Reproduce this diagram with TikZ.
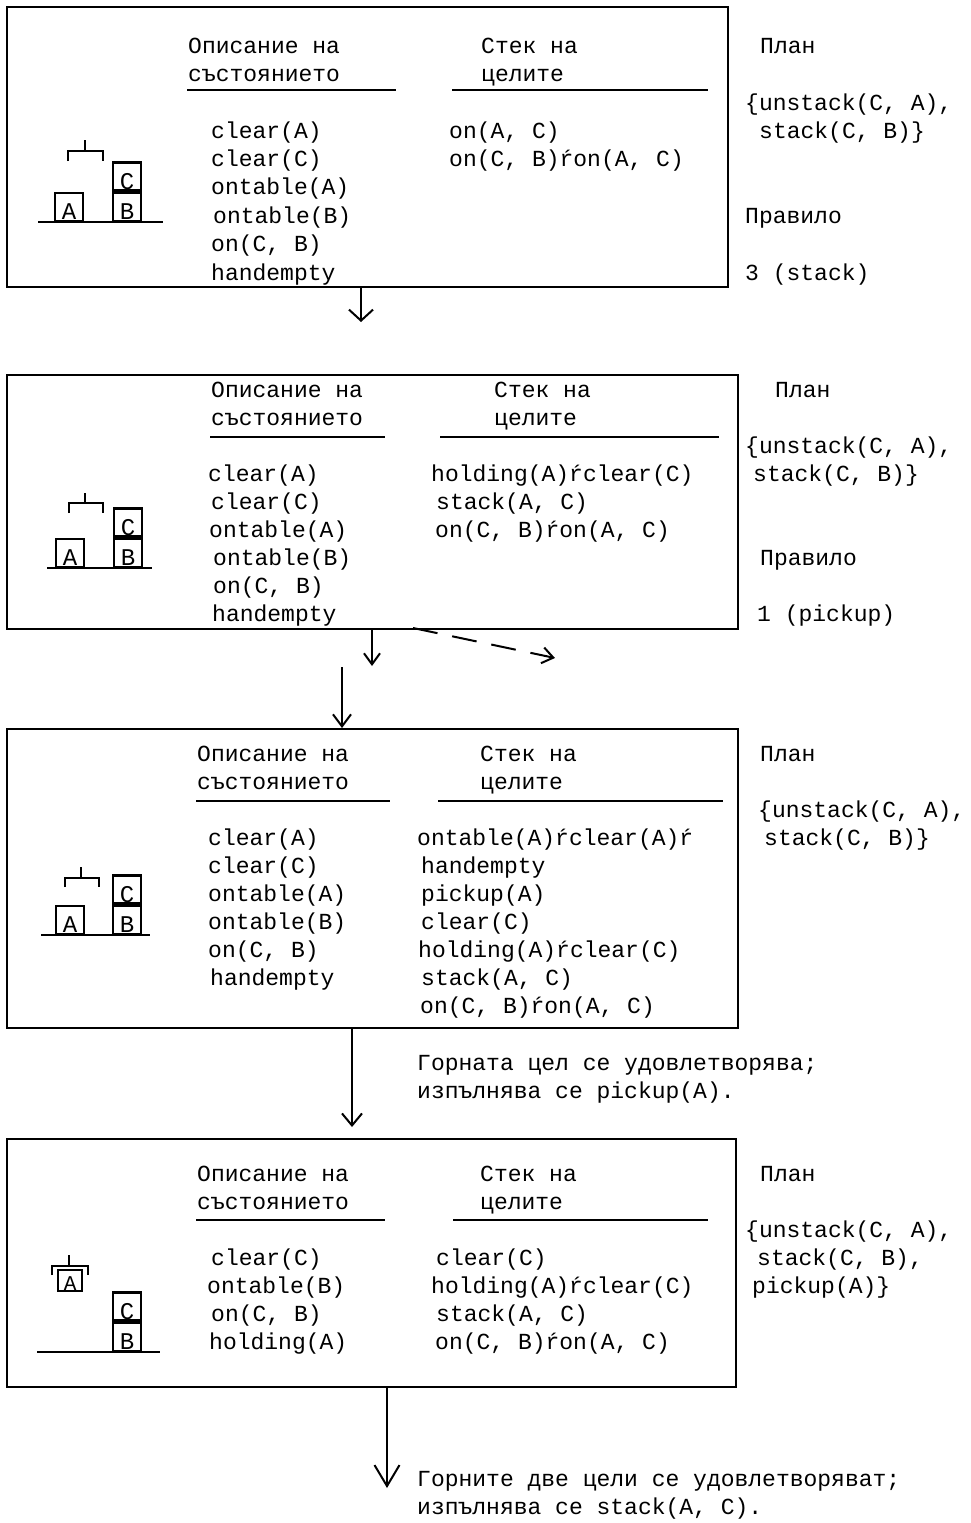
\documentclass[tikz,border=0pt]{standalone}
\usepackage{fontspec}
\newfontfamily\mono{Liberation Mono}
\usetikzlibrary{arrows.meta,calc}
\tikzset{
  txt/.style={anchor=west, inner sep=0pt, font=\mono\fontsize{23}{28}\selectfont,
    text height=20pt, text depth=4pt},
  frame/.style={draw, line width=2pt, anchor=north west, inner sep=0pt},
  rule/.style={line width=2pt},
  blk/.style={draw, line width=2.3pt, anchor=south west, minimum width=28pt,
    minimum height=28pt, inner sep=0pt, font=\mono\fontsize{24}{24}\selectfont,
    text height=25pt, text depth=0pt},
  hand/.style={line width=2.5pt},
  arr/.style={line width=2pt},
}
\begin{document}
\begin{tikzpicture}[x=1pt,y=-1pt]
\useasboundingbox (0,0) rectangle (971,1523);

% ---------------- state 1 ----------------
\node[frame, minimum width=721pt, minimum height=280pt] (B1) at (6,6) {};
\node[txt] (t1a) at (188,45) {Описание на};
\node[txt] (t1b) at (188,73) {състоянието};
\draw[rule] (187,90) -- (396,90);
\node[txt] (g1a) at (481,45) {Стек на};
\node[txt] (g1b) at (481,73) {целите};
\draw[rule] (452,90) -- (708,90);
\node[txt] (s1a) at (211,130) {clear(A)};
\node[txt] (s1b) at (211,158) {clear(C)};
\node[txt] (s1c) at (211,186) {ontable(A)};
\node[txt] (s1d) at (213,215) {ontable(B)};
\node[txt] (s1e) at (211,243) {on(C, B)};
\node[txt] (s1f) at (211,272) {handempty};
\node[txt] (k1a) at (449,130) {on(A, C)};
\node[txt] (k1b) at (449,158) {on(C, B)ŕon(A, C)};
\node[txt] (p1a) at (760,45) {План};
\node[txt] (p1b) at (745,102) {\{unstack(C, A),};
\node[txt] (p1c) at (759,130) {stack(C, B)\}};
\node[txt] (r1a) at (745,215) {Правило};
\node[txt] (r1b) at (745,272) {3 (stack)};
% blocks
\draw[rule] (38,222) -- (163,222);
\node[blk] (w1A) at (54,222) {A};
\node[blk] (w1B) at (112,222) {B};
\node[blk] (w1C) at (w1B.north west) {C};
\draw[hand] (68,161) -- (68,151) -- (103,151) -- (103,161);
\draw[hand] (85,151) -- (85,140);

% ---------------- state 2 ----------------
\node[frame, minimum width=731pt, minimum height=254pt] (B2) at (6,374) {};
\node[txt] (t2a) at (211,389) {Описание на};
\node[txt] (t2b) at (211,417) {състоянието};
\draw[rule] (210,437) -- (385,437);
\node[txt] (g2a) at (494,389) {Стек на};
\node[txt] (g2b) at (494,417) {целите};
\draw[rule] (440,437) -- (719,437);
\node[txt] (s2a) at (208,473) {clear(A)};
\node[txt] (s2b) at (211,501) {clear(C)};
\node[txt] (s2c) at (209,529) {ontable(A)};
\node[txt] (s2d) at (213,557) {ontable(B)};
\node[txt] (s2e) at (213,585) {on(C, B)};
\node[txt] (s2f) at (212,613) {handempty};
\node[txt] (k2a) at (431,473) {holding(A)ŕclear(C)};
\node[txt] (k2b) at (436,501) {stack(A, C)};
\node[txt] (k2c) at (435,529) {on(C, B)ŕon(A, C)};
\node[txt] (p2a) at (775,389) {План};
\node[txt] (p2b) at (745,445) {\{unstack(C, A),};
\node[txt] (p2c) at (753,473) {stack(C, B)\}};
\node[txt] (r2a) at (760,557) {Правило};
\node[txt] (r2b) at (757,613) {1 (pickup)};
% blocks
\draw[rule] (47,568) -- (152,568);
\node[blk] (w2A) at (55,568) {A};
\node[blk] (w2B) at (113,568) {B};
\node[blk] (w2C) at (w2B.north west) {C};
\draw[hand] (69,513) -- (69,503) -- (103,503) -- (103,513);
\draw[hand] (85,503) -- (85,493);

% ---------------- state 3 ----------------
\node[frame, minimum width=731pt, minimum height=299pt] (B3) at (6,728) {};
\node[txt] (t3a) at (197,753) {Описание на};
\node[txt] (t3b) at (197,781) {състоянието};
\draw[rule] (196,801) -- (390,801);
\node[txt] (g3a) at (480,753) {Стек на};
\node[txt] (g3b) at (480,781) {целите};
\draw[rule] (438,801) -- (723,801);
\node[txt] (s3a) at (208,837) {clear(A)};
\node[txt] (s3b) at (208,865) {clear(C)};
\node[txt] (s3c) at (208,893) {ontable(A)};
\node[txt] (s3d) at (208,921) {ontable(B)};
\node[txt] (s3e) at (208,949) {on(C, B)};
\node[txt] (s3f) at (210,977) {handempty};
\node[txt] (k3a) at (417,837) {ontable(A)ŕclear(A)ŕ};
\node[txt] (k3b) at (421,865) {handempty};
\node[txt] (k3c) at (421,893) {pickup(A)};
\node[txt] (k3d) at (421,921) {clear(C)};
\node[txt] (k3e) at (418,949) {holding(A)ŕclear(C)};
\node[txt] (k3f) at (421,977) {stack(A, C)};
\node[txt] (k3g) at (420,1005) {on(C, B)ŕon(A, C)};
\node[txt] (p3a) at (760,753) {План};
\node[txt] (p3b) at (758,809) {\{unstack(C, A),};
\node[txt] (p3c) at (764,837) {stack(C, B)\}};
% blocks
\draw[rule] (41,935) -- (150,935);
\node[blk] (w3A) at (55,935) {A};
\node[blk] (w3B) at (112,935) {B};
\node[blk] (w3C) at (w3B.north west) {C};
\draw[hand] (65,887) -- (65,878) -- (99,878) -- (99,887);
\draw[hand] (81,878) -- (81,867);

% ---------------- state 4 ----------------
\node[frame, minimum width=729pt, minimum height=248pt] (B4) at (6,1138) {};
\node[txt] (t4a) at (197,1173) {Описание на};
\node[txt] (t4b) at (197,1201) {състоянието};
\draw[rule] (196,1220) -- (385,1220);
\node[txt] (g4a) at (480,1173) {Стек на};
\node[txt] (g4b) at (480,1201) {целите};
\draw[rule] (453,1220) -- (708,1220);
\node[txt] (s4a) at (211,1257) {clear(C)};
\node[txt] (s4b) at (207,1285) {ontable(B)};
\node[txt] (s4c) at (211,1313) {on(C, B)};
\node[txt] (s4d) at (209,1341) {holding(A)};
\node[txt] (k4a) at (436,1257) {clear(C)};
\node[txt] (k4b) at (431,1285) {holding(A)ŕclear(C)};
\node[txt] (k4c) at (436,1313) {stack(A, C)};
\node[txt] (k4d) at (435,1341) {on(C, B)ŕon(A, C)};
\node[txt] (p4a) at (760,1173) {План};
\node[txt] (p4b) at (745,1229) {\{unstack(C, A),};
\node[txt] (p4c) at (757,1257) {stack(C, B),};
\node[txt] (p4d) at (752,1285) {pickup(A)\}};
% blocks
\draw[rule] (37,1352) -- (160,1352);
\node[blk] (w4B) at (112,1352) {B};
\node[blk] (w4C) at (w4B.north west) {C};
\node[blk, minimum width=24pt, minimum height=21pt, text height=21pt,
  font=\mono\fontsize{21}{21}\selectfont] (w4A) at (57,1292) {A};
\draw[hand] (52,1275) -- (52,1266) -- (88,1266) -- (88,1275);
\draw[hand] (69,1266) -- (69,1255);

% ---------------- transitions ----------------
\coordinate (a1) at (361,322);
\draw[arr, -{Straight Barb[length=11pt,width=24pt,line width=2pt]}] (a1 |- B1.south) -- (a1);
\coordinate (a2) at (372,666);
\draw[arr, -{Straight Barb[length=11pt,width=16pt,line width=2pt]}] (a2 |- B2.south) -- (a2);
\coordinate (d2s) at (413,628);
\coordinate (d2e) at (555,658);
\draw[arr, dash pattern=on 25pt off 15pt, -{Straight Barb[length=11pt,width=16pt,line width=2pt]}] (d2s) -- (d2e);
\coordinate (a3) at (342,667);
\draw[arr, -{Straight Barb[length=12pt,width=18pt,line width=2pt]}] (a3) -- (a3 |- B3.north);
\coordinate (a4) at (352,1127);
\draw[arr, -{Straight Barb[length=12pt,width=20pt,line width=2pt]}] (a4 |- B3.south) -- (a4);
\node[txt] (n4a) at (417,1062) {Горната цел се удовлетворява;};
\node[txt] (n4b) at (417,1090) {изпълнява се pickup(A).};
\coordinate (a5) at (387,1488);
\draw[arr, -{Straight Barb[length=21pt,width=25pt,line width=2pt]}] (a5 |- B4.south) -- (a5);
\node[txt] (n5a) at (417,1478) {Горните две цели се удовлетворяват;};
\node[txt] (n5b) at (417,1506) {изпълнява се stack(A, C).};
\end{tikzpicture}
\end{document}
